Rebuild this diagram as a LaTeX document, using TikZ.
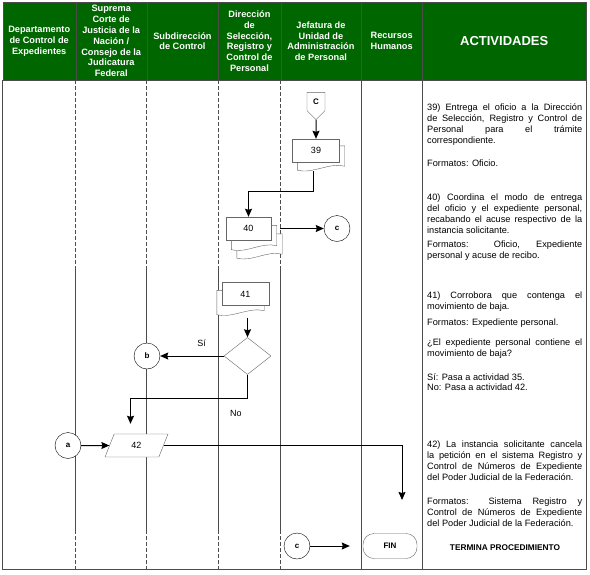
\documentclass[tikz,border=0pt]{standalone}
\usepackage{fontspec}
\setmainfont{Liberation Sans}
\usetikzlibrary{shapes.geometric, shapes.symbols, arrows.meta, backgrounds, positioning}

\definecolor{hdrgreen}{RGB}{0,102,0}

% page behind a document node: #1 node, #2 #3 offset
\newcommand{\docpage}[3]{%
	\path[page] ([shift={(#2,#3)}]#1.north west) -- ([shift={(#2,#3)}]#1.north east)
		-- ([shift={(#2,#3-3)}]#1.south east)
		.. controls +(-15,-4) and +(15,4) .. ([shift={(#2,#3+1)}]#1.south west) -- cycle;}

\begin{document}
\begin{tikzpicture}[x=1pt, y=-1pt, >={Stealth[length=8pt, width=7pt, inset=1pt]},
	hcell/.style={draw=black!70, fill=hdrgreen, text=white, anchor=north west, minimum height=78pt, inner sep=1pt, align=center, font=\bfseries\fontsize{9.2}{10.8}\selectfont},
	lane/.style={draw=black!70, line width=0.6pt},
	gap/.style={dash pattern=on 4pt off 2pt},
	doc/.style={draw=black!60, fill=white, minimum width=47pt, minimum height=23pt, inner sep=0pt, font=\fontsize{9}{10}\selectfont},
	page/.style={draw=black!60, fill=white},
	conn/.style={draw, circle, fill=white, minimum size=26pt, inner sep=0pt, font=\bfseries\fontsize{8}{9}\selectfont},
	flow/.style={->, line width=1pt},
	lbl/.style={font=\fontsize{9}{10}\selectfont},
	act/.style={anchor=base west, text width=155pt, align=justify, inner sep=0pt, font=\fontsize{9.2}{11.3}\selectfont}]
	\useasboundingbox (0,0) rectangle (590,574);

	% header
	\node[hcell, minimum width=73pt] (h_dce) at (2.5,2) {Departamento\\de Control de\\Expedientes};
	\node[hcell, minimum width=71pt] (h_scjn) at (75.5,2) {Suprema\\Corte de\\Justicia de la\\Nación /\\Consejo de la\\Judicatura\\Federal};
	\node[hcell, minimum width=71.5pt] (h_sc) at (146.5,2) {Subdirección\\de Control};
	\node[hcell, minimum width=62.5pt] (h_dsrc) at (218,2) {Dirección\\de\\Selección,\\Registro y\\Control de\\Personal};
	\node[hcell, minimum width=80.5pt] (h_juap) at (280.5,2) {Jefatura de\\Unidad de\\Administración\\de Personal};
	\node[hcell, minimum width=61pt] (h_rh) at (361,2) {Recursos\\Humanos};
	\node[hcell, minimum width=164pt, font=\bfseries\fontsize{13}{15}\selectfont] (h_act) at (422,2) {ACTIVIDADES};

	% lanes
	\begin{scope}[on background layer]
		\foreach \x in {75.5,146.5,218,280.5}{
			\draw[lane, gap] (\x,80) -- (\x,268);
			\draw[lane] (\x,268) -- (\x,530);
			\draw[lane, gap] (\x,530) -- (\x,569);
		}
		\draw[lane] (361,80) -- (361,569);
		\draw[lane] (422,80) -- (422,569);
		\draw[lane] (2.5,80) rectangle (586,569);
	\end{scope}

	% shapes
	\node[draw=black!60, fill=white, signal, signal to=south, minimum width=18pt, minimum height=21pt, inner sep=0pt, font=\bfseries\fontsize{8}{9}\selectfont] (offc) at (316,101.5) {C};
	\node[doc] (d39) at (316,150.5) {39};
	\node[doc, minimum width=45pt] (d40) at (248.5,228.5) {40};
	\node[conn] (conc1) at (337,228.5) {c};
	\node[doc] (d41) at (245.5,294) {41};
	\node[diamond, draw=black!60, fill=white, minimum width=47pt, minimum height=37pt, inner sep=0pt] (dec) at (247.5,356) {};
	\node[conn] (conb) at (147,356) {b};
	\node[conn] (cona) at (68,445.5) {a};
	\node[trapezium, trapezium left angle=72, trapezium right angle=108, trapezium stretches=true, draw=black!60, fill=white, minimum width=63pt, minimum height=23pt, inner sep=0pt, font=\fontsize{9}{10}\selectfont] (p42) at (136.5,445.5) {42};
	\node[conn] (conc2) at (297,546) {c};
	\node[draw=black!60, rounded corners=11pt, minimum width=54pt, minimum height=25pt, font=\bfseries\fontsize{8}{9}\selectfont] (fin) at (390,546) {FIN};
	\coordinate (end42) at (402,500);

	\begin{scope}[on background layer]
		\docpage{d39}{5}{7}
		\docpage{d40}{11}{17}
		\docpage{d40}{5.5}{8.5}
		\docpage{d41}{-5}{8}
	\end{scope}

	% connectors
	\draw[flow] (offc) -- (d39);
	\draw[flow] ([shift={(-3,9)}]d39.south) -- ++(0,20) -| (d40.north);
	\draw[flow] ([shift={(9,0)}]d40.east) -- (conc1);
	\draw[flow] ([shift={(2,12)}]d41.south) -- (dec.north);
	\draw[flow] (dec.west) -- (dec.west -| conb.east) node[lbl, pos=0.35, above=6pt] {Sí};
	\draw[flow] (dec.south) -- ++(0,24) node[lbl, below left=8pt and 2pt] {No} -| ([shift={(-6,-10)}]p42.north);
	\draw[flow] (cona) -- (p42);
	\draw[flow] (p42.east) -| (end42);
	\draw[flow] (conc2) -- ([shift={(-13,0)}]fin.west);

	% activities
	\node[act] (a39) at (427,110) {39) Entrega el oficio a la Dirección\linebreak de Selección, Registro y Control de\linebreak Personal para el trámite\linebreak correspondiente.};
	\node[act] (f39) at (427,166) {Formatos: Oficio.};
	\node[act] (a40) at (427,200) {40) Coordina el modo de entrega\linebreak del oficio y el expediente personal,\linebreak recabando el acuse respectivo de la\linebreak instancia solicitante.};
	\node[act] (f40) at (427,247) {Formatos: Oficio, Expediente\linebreak personal y acuse de recibo.};
	\node[act] (a41) at (427,298) {41) Corrobora que contenga el\linebreak movimiento de baja.};
	\node[act] (f41) at (427,325) {Formatos: Expediente personal.};
	\node[act] (q41) at (427,345) {¿El expediente personal contiene el\linebreak movimiento de baja?};
	\node[act] (s41) at (427,380) {Sí: Pasa a actividad 35.};
	\node[act] (n41) at (427,390.5) {No: Pasa a actividad 42.};
	\node[act] (a42) at (427,447) {42) La instancia solicitante cancela\linebreak la petición en el sistema Registro y\linebreak Control de Números de Expediente\linebreak del Poder Judicial de la Federación.};
	\node[act] (f42) at (427,504) {Formatos: Sistema Registro y\linebreak Control de Números de Expediente\linebreak del Poder Judicial de la Federación.};
	\node[font=\bfseries\fontsize{8.3}{10}\selectfont] (tend) at (505,548) {TERMINA PROCEDIMIENTO};
\end{tikzpicture}
\end{document}
